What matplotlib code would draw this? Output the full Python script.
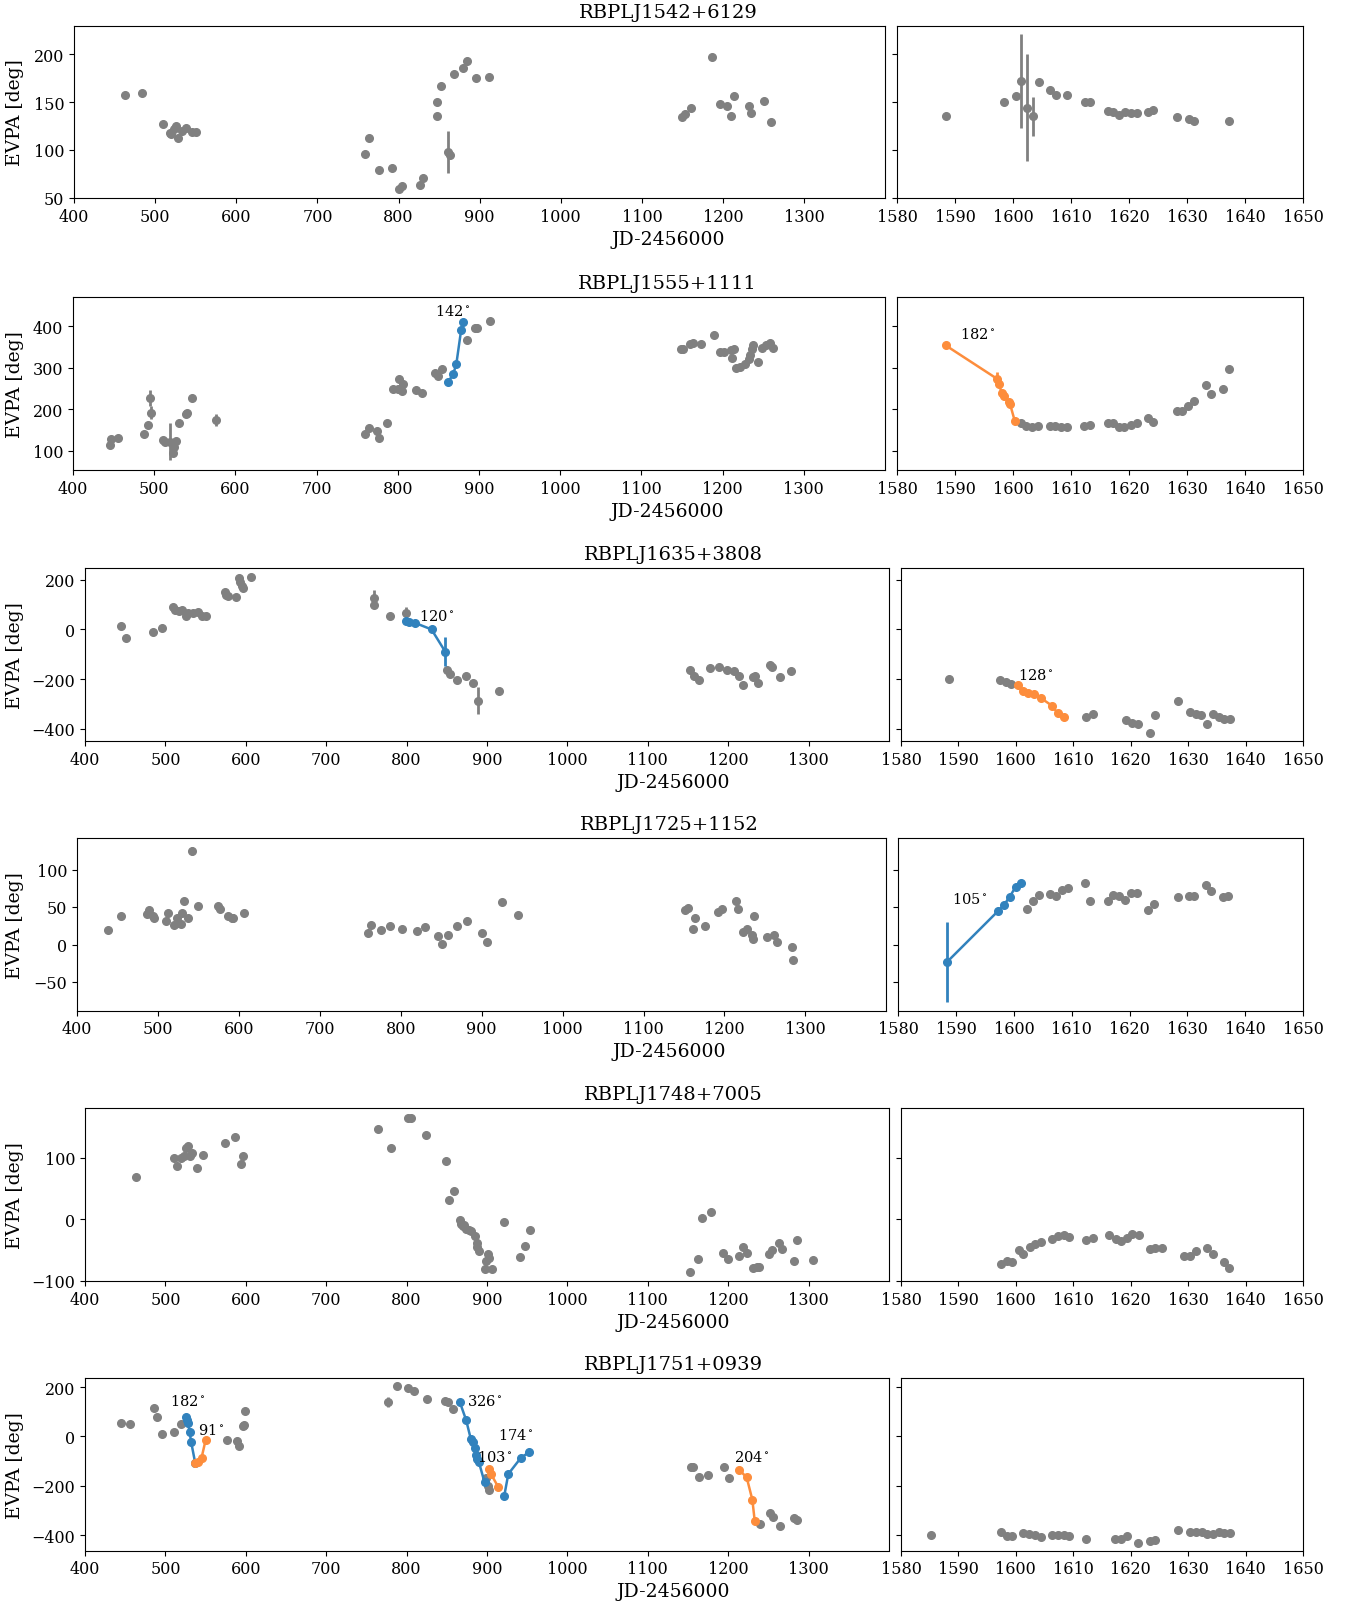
import matplotlib
matplotlib.use("Agg")
import matplotlib.pyplot as plt

plt.rcParams['font.family'] = ['DejaVu Serif']
plt.rcParams['mathtext.fontset'] = 'dejavuserif'

GRAY = '#808080'
BLUE = '#3182bd'
ORANGE = '#fd8d3c'

#%% data (JD-2456000, EVPA in deg)
j1542_t = [463, 484, 510, 518, 520, 523, 526, 528, 533, 538, 546, 550,
           759, 764, 776, 792, 800, 804, 826, 830, 847, 848, 852, 861, 864, 868, 880, 884, 896, 912,
           1149, 1153, 1161, 1186, 1196, 1205, 1210, 1214, 1232, 1235, 1250, 1259,
           1588.4, 1598.4, 1600.4, 1601.3, 1602.3, 1603.4, 1604.4, 1606.3, 1607.4, 1609.3, 1612.3, 1613.3,
           1616.3, 1617.3, 1618.3, 1619.2, 1620.3, 1621.3, 1623.2, 1624.2, 1628.3, 1630.3, 1631.2, 1637.2]
j1542_evpa = [157, 160, 127, 118, 117, 122, 125, 113, 120, 123, 119, 119,
              96, 112, 79, 81, 59, 62, 63, 71, 150, 136, 167, 98, 95, 179, 186, 193, 175, 176,
              134, 138, 144, 197, 148, 146, 135, 156, 146, 139, 151, 129,
              135, 150, 156, 172, 144, 135, 171, 163, 157, 157, 150, 150,
              141, 140, 137, 140, 139, 139, 140, 142, 134, 132, 130, 130]
j1542_err = [0]*12 + [0, 0, 0, 0, 0, 0, 0, 0, 0, 0, 0, 22, 0, 0, 0, 0, 0, 0] + [0]*12 + \
            [0, 0, 0, 49, 56, 20] + [0]*18

j1555_t = [445, 447, 455, 488, 492, 495, 496, 511, 513, 519, 523, 524, 527, 531, 539, 541, 546, 576,
           760, 764, 774, 777, 787, 794, 800, 802, 805, 807, 822, 830, 846, 849, 854,
           885, 895, 898, 913,
           1149, 1151, 1160, 1163, 1174, 1190, 1197, 1202, 1210, 1212, 1214, 1216, 1222, 1228, 1232,
           1234, 1236, 1238, 1243, 1249, 1254, 1258, 1262,
           1601.3, 1602.3, 1603.3, 1604.3, 1606.3, 1607.3, 1608.3, 1609.3, 1612.2, 1613.3, 1616.3,
           1617.3, 1618.3, 1619.2, 1620.3, 1621.3, 1623.2, 1624.2, 1628.3, 1629.2, 1630.2, 1631.2,
           1633.2, 1634.2, 1636.2, 1637.2]
j1555_evpa = [115, 128, 130, 141, 163, 227, 192, 125, 122, 122, 94, 109, 123, 166, 189, 192, 226, 174,
              141, 154, 148, 130, 166, 250, 249, 274, 245, 262, 246, 240, 287, 280, 298,
              368, 397, 395, 412,
              346, 345, 357, 360, 358, 379, 339, 337, 342, 323, 345, 299, 303, 310, 320,
              331, 346, 354, 315, 347, 355, 360, 347,
              168, 160, 158, 159, 160, 160, 158, 158, 159, 161, 168,
              168, 158, 158, 161, 168, 178, 170, 195, 196, 207, 219,
              258, 238, 248, 298]
j1555_err = [0, 0, 0, 0, 0, 20, 15, 0, 0, 45, 0, 0, 0, 0, 0, 0, 0, 14] + [0]*15 + [0]*4 + [0]*23 + [0]*26

j1635_t = [445, 451, 485, 496, 510, 512, 517, 521, 526, 528, 534, 540, 545, 550,
           574, 575, 578, 588, 591, 593, 595, 596, 607,
           760, 760, 779, 799,
           850, 854, 863, 874, 883, 889, 915,
           1152, 1157, 1164, 1177, 1188, 1199, 1207, 1214, 1219, 1231, 1233, 1237, 1252, 1255, 1265, 1278,
           1588.3, 1597.3, 1598.3, 1599.2, 1612.3, 1613.4, 1619.2, 1620.3, 1621.3, 1623.3, 1624.3,
           1628.3, 1630.3, 1631.3, 1632.3, 1633.3, 1634.3, 1635.3, 1636.3, 1637.3]
j1635_evpa = [14, -33, -11, 4, 92, 80, 75, 78, 55, 68, 65, 70, 56, 56,
              152, 138, 133, 129, 205, 190, 176, 165, 212,
              125, 99, 53, 66,
              -165, -181, -204, -188, -214, -286, -248,
              -165, -188, -205, -154, -151, -163, -169, -189, -225, -190, -189, -217, -143, -150, -190, -169,
              -200, -204, -210, -218, -352, -340, -365, -377, -379, -416, -346,
              -288, -333, -341, -346, -379, -341, -354, -361, -361]
j1635_err = [0]*23 + [35, 0, 0, 25] + [0, 0, 0, 0, 0, 55, 0] + [0]*16 + [0]*20

j1725_t = [438.5, 454, 486, 489, 494.5, 495, 510, 512, 520, 523, 525, 528, 530, 532, 537, 541.5,
           549, 574, 577, 586, 591, 593, 606,
           760, 763, 775, 787, 801, 820, 830, 846, 851, 858, 870, 882, 901, 906, 925, 945,
           1151, 1155, 1161, 1164, 1176, 1192, 1197, 1214, 1216.5, 1223, 1228, 1234, 1235, 1237,
           1252, 1261, 1265.5, 1284, 1285,
           1602.3, 1603.3, 1604.3, 1606.3, 1607.3, 1608.3, 1609.3, 1612.3, 1613.2, 1616.2, 1617.2,
           1618.2, 1619.2, 1620.2, 1621.2, 1623.2, 1624.2, 1628.3, 1630.2, 1631.2, 1633.2, 1634.1,
           1636.2, 1637.1]
j1725_evpa = [20, 38, 41, 46, 38, 35, 31, 42, 26, 36, 29, 28, 42, 58, 35, 125,
              51, 51, 47, 38, 36, 36, 42,
              15, 26, 20, 25, 21, 18, 23, 12, 1, 13, 25, 31, 15, 4, 57, 40,
              46, 49, 21, 35, 25, 44, 48, 58, 47, 17, 21, 13, 7, 38,
              10, 13, 3, -3, -21,
              48, 58, 66, 68, 65, 73, 76, 82, 58, 58, 66,
              65, 60, 69, 69, 46, 54, 63, 65, 65, 79, 71,
              63, 65]
j1725_err = [0]*15 + [5] + [0]*7 + [0]*16 + [0]*19 + [0]*24

j1748_t = [464, 511, 514, 520, 523.5, 525.6, 527.7, 530.6, 532.7, 539, 547, 574, 587, 594, 597,
           764, 780, 802, 806, 824, 849, 853, 859, 866, 868, 870, 872, 874, 878, 880, 885, 887,
           888, 890, 897.5, 899, 901, 902.5, 906, 921.5, 941, 947, 953,
           1153, 1162, 1168, 1178, 1193, 1200, 1213, 1219, 1224, 1231, 1236, 1238, 1251, 1255,
           1263, 1267, 1282, 1285, 1305,
           1597.4, 1598.4, 1599.3, 1600.5, 1601.3, 1602.4, 1603.4, 1604.4, 1606.3, 1607.4, 1608.4,
           1609.3, 1612.3, 1613.4, 1616.3, 1617.4, 1618.3, 1619.3, 1620.3, 1621.4, 1623.3, 1624.3,
           1625.4, 1629.2, 1630.3, 1631.3, 1633.3, 1634.3, 1636.3, 1637.2]
j1748_evpa = [69, 100, 86, 99, 102, 116, 119, 103, 107, 83, 105, 124, 133, 90, 103,
              146, 116, 164, 165, 137, 94, 31, 45, -1, -7, -11, -9, -16, -17, -19, -28, -38,
              -45, -51, -81, -68, -57, -63, -81, -5, -62, -44, -18,
              -85, -64, 2, 11, -55, -65, -59, -45, -55, -80, -78, -78, -57, -50,
              -38, -49, -68, -34, -67,
              -72, -68, -69, -50, -56, -45, -40, -37, -32, -27, -26,
              -29, -34, -31, -25, -32, -35, -31, -24, -26, -48, -47,
              -47, -59, -60, -52, -47, -56, -69, -79]
j1748_err = [0]*len(j1748_t)

j1751_t = [444.5, 456.5, 486, 490, 496, 511, 520, 577, 589, 592, 596, 598, 599,
           777, 788, 802, 809, 825, 847.5, 852, 858, 899, 901, 902,
           1154, 1156, 1164, 1175, 1195, 1201, 1239, 1252, 1256, 1265, 1282, 1286,
           1585.2, 1597.4, 1598.4, 1599.3, 1601.3, 1602.3, 1603.4, 1604.4, 1606.3, 1607.4, 1608.4,
           1609.3, 1612.3, 1617.3, 1618.3, 1619.3, 1621.3, 1623.3, 1624.3, 1628.3, 1630.4, 1631.4,
           1632.4, 1633.3, 1634.3, 1635.3, 1636.3, 1637.3]
j1751_evpa = [56, 50, 116, 78, 12, 20, 50, -15, -18, -38, 42, 47, 102,
              139, 203, 197, 184, 152, 144, 140, 112, -170, -200, -218,
              -124, -124, -166, -155, -125, -167, -355, -312, -325, -362, -332, -340,
              -401, -389, -405, -404, -393, -397, -399, -408, -401, -401, -399,
              -403, -416, -415, -415, -404, -430, -422, -418, -378, -389, -389,
              -389, -396, -395, -386, -391, -391]
j1751_err = [0]*13 + [20] + [0]*10 + [0]*12 + [0]*28

# EVPA rotations: (time, evpa, error, colour, amplitude label)
rot_1555 = [([862, 868, 872, 878, 880.5], [266, 284, 308, 391, 410], [0]*5, BLUE, '142'),
            ([1588.4, 1597.3, 1597.5, 1598.1, 1598.4, 1599.3, 1599.5, 1600.3],
             [354, 273, 261, 240, 232, 217, 212, 172], [0, 16, 0, 0, 0, 0, 0, 0], ORANGE, '182')]
rot_1635 = [([799, 803, 810, 831, 848], [32, 28, 27, 0, -89], [0, 0, 0, 0, 60], BLUE, '120'),
            ([1600.3, 1601.2, 1602.2, 1603.2, 1604.3, 1606.3, 1607.3, 1608.4],
             [-224, -248, -256, -259, -275, -307, -338, -352], [0]*8, ORANGE, '128')]
rot_1725 = [([1588.4, 1597.3, 1598.3, 1599.3, 1600.3, 1601.3], [-23.5, 45, 53, 64, 77, 82],
             [53, 0, 0, 0, 0, 0], BLUE, '105')]
rot_1751 = [([526, 527, 528.4, 530, 532, 537], [79, 68, 53, 20, -22, -106], [0]*6, BLUE, '182'),
            ([537, 541, 545, 550], [-108, -102, -86, -15], [0]*4, ORANGE, '91'),
            ([866, 874, 880, 882, 885, 886, 888, 890, 897], [141, 67, -12, -22, -46, -74, -91, -105, -186],
             [0]*9, BLUE, '326'),
            ([903, 905, 914], [-131, -152, -205], [0]*3, ORANGE, '103'),
            ([921.5, 926.5, 942, 952.6], [-240, -152, -87, -63], [0]*4, BLUE, '174'),
            ([1214, 1223, 1230, 1233], [-136, -166, -256, -342], [0]*4, ORANGE, '204')]

sources = [("RBPLJ1542+6129", j1542_t, j1542_evpa, j1542_err, []),
           ("RBPLJ1555+1111", j1555_t, j1555_evpa, j1555_err, rot_1555),
           ("RBPLJ1635+3808", j1635_t, j1635_evpa, j1635_err, rot_1635),
           ("RBPLJ1725+1152", j1725_t, j1725_evpa, j1725_err, rot_1725),
           ("RBPLJ1748+7005", j1748_t, j1748_evpa, j1748_err, []),
           ("RBPLJ1751+0939", j1751_t, j1751_evpa, j1751_err, rot_1751)]

ylims = [(49.5, 230), (54, 470), (-448, 246), (-88, 142), (-100, 180), (-462, 237)]
yticks = [[50, 100, 150, 200], [100, 200, 300, 400], [-400, -200, 0, 200],
          [-50, 0, 50, 100], [-100, 0, 100], [-400, -200, 0, 200]]

#%% layout (pixels) and where the rotation labels sit (data coords)
W, H = 1349, 1606
row_top = [26.7, 298.3, 569.3, 839, 1109.3, 1379]
row_left = [74, 73, 85, 77, 85, 85]
ax_h = 172.5
gap = 12
x_right = 1303
label_xy = {1: [(868, 438), (1594, 382)],
            2: [(838, 57), (1603.5, -181)],
            3: [(1592.4, 61.5)],
            5: [(528, 144), (557, 29), (897.5, 144), (909.5, -83), (936, 8), (1229, -80)]}

fig = plt.figure(figsize=(W/100, H/100), dpi=100)

for i, (name, t, evpa, err, rots) in enumerate(sources):
    L = row_left[i]
    span = x_right - L - gap
    wl, wr = span*2/3, span/3
    bottom = 1 - (row_top[i] + ax_h)/H
    axl = fig.add_axes([L/W, bottom, wl/W, ax_h/H])
    axr = fig.add_axes([(L + wl + gap)/W, bottom, wr/W, ax_h/H], sharey=axl)

    for ax in (axl, axr):
        ax.errorbar(t, evpa, yerr=err, fmt='o', color=GRAY, ms=5.5, elinewidth=2, capsize=0, zorder=2)
        for rt, rv, re, c, lab in rots:
            ax.errorbar(rt, rv, yerr=re, fmt='o-', color=c, ms=5.5, lw=1.8, elinewidth=2,
                        capsize=0, zorder=3)
        ax.tick_params(labelsize=11.5)

    for k, (rt, rv, re, c, lab) in enumerate(rots):
        lx, ly = label_xy[i][k]
        ax = axl if lx < 1500 else axr
        ax.text(lx, ly, lab + r'$^\circ$', fontsize=10.5, ha='center', va='center', zorder=4)

    axl.set_xlim(400, 1400)
    axl.set_xticks(range(400, 1400, 100))
    axr.set_xlim(1580, 1650)
    axr.set_xticks(range(1580, 1651, 10))
    axl.set_ylim(*ylims[i])
    axl.set_yticks(yticks[i])
    axr.tick_params(labelleft=False)

    xc = (L + 1262)/2
    fig.text(xc/W, 1 - (row_top[i] - 14)/H, name, fontsize=14, ha='center', va='center')
    fig.text(xc/W, 1 - (row_top[i] + ax_h + 41)/H, 'JD-2456000', fontsize=13.5, ha='center', va='center')
    fig.text(15/W, 1 - (row_top[i] + ax_h/2)/H, 'EVPA [deg]', fontsize=13.5, rotation=90,
             ha='center', va='center')

plt.savefig("out.png", dpi=100)
